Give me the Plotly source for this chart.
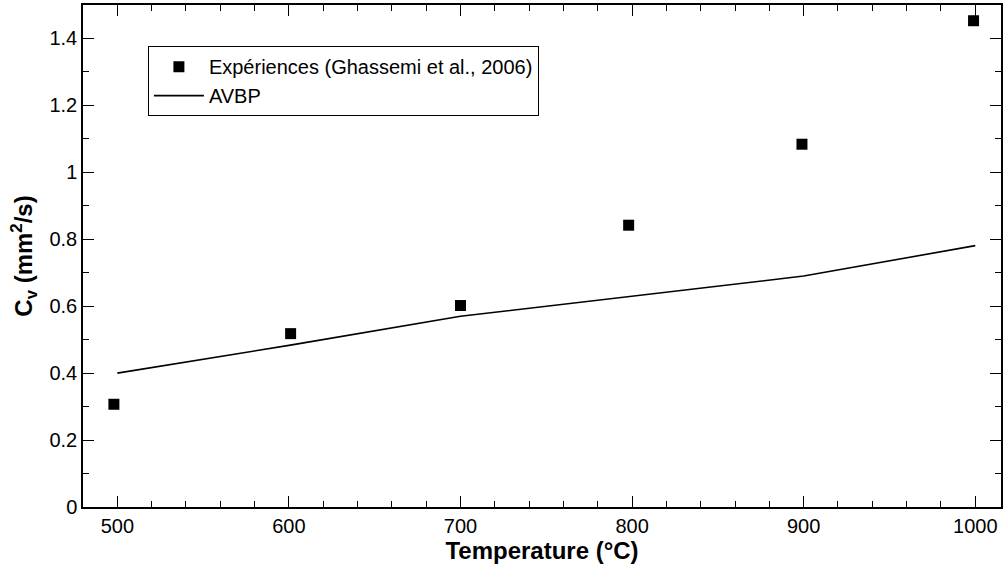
import plotly.graph_objects as go

exp_T = [498, 601, 700, 798, 899, 999]
exp_cv = [0.307, 0.518, 0.602, 0.842, 1.084, 1.453]
avbp_T = [500, 600, 700, 800, 900, 1000]
avbp_cv = [0.40, 0.483, 0.570, 0.630, 0.690, 0.781]

fig = go.Figure()
fig.add_trace(go.Scatter(x=exp_T, y=exp_cv, mode="markers",
                         name="Expériences (Ghassemi et al., 2006)",
                         marker=dict(symbol="square", size=11, color="black")))
fig.add_trace(go.Scatter(x=avbp_T, y=avbp_cv, mode="lines", name="AVBP",
                         line=dict(color="black", width=1.6)))

font = "Liberation Sans, Arial, sans-serif"
axis_common = dict(showline=True, linecolor="black", linewidth=1.5, mirror="allticks",
                   ticks="inside", ticklen=11, tickwidth=1.2, tickcolor="black",
                   showgrid=False, zeroline=False,
                   tickfont=dict(family=font, size=20, color="black"))
fig.update_xaxes(range=[480, 1015], tickvals=[500, 600, 700, 800, 900, 1000],
                 minor=dict(dtick=20, ticks="inside", ticklen=6, tickcolor="black", tickwidth=1),
                 title=dict(text="<b>Temperature (°C)</b>", font=dict(family=font, size=24, color="black"), standoff=6),
                 **axis_common)
fig.update_yaxes(range=[0, 1.5], tickvals=[0, 0.2, 0.4, 0.6, 0.8, 1, 1.2, 1.4],
                 ticktext=["0", "0.2", "0.4", "0.6", "0.8", "1", "1.2", "1.4"],
                 minor=dict(dtick=0.1, ticks="inside", ticklen=6, tickcolor="black", tickwidth=1),
                 title=dict(text="<b>C<sub>v</sub> (mm<sup>2</sup>/s)</b>", font=dict(family=font, size=24, color="black"), standoff=10),
                 **axis_common)
fig.update_layout(width=1004, height=569, margin=dict(l=83, r=1, t=5, b=62),
                  plot_bgcolor="white", paper_bgcolor="white",
                  legend=dict(x=0.0707, y=0.918, xanchor="left", yanchor="top",
                              bordercolor="black", borderwidth=1, bgcolor="white",
                              font=dict(family=font, size=20, color="black"),
                              tracegroupgap=0, itemwidth=50))
fig.write_html("out.html", config={"displayModeBar": False})

with open("out.html", "r", encoding="utf-8") as f:
    html = f.read()
html = html.replace("<head>", "<head><style>html,body{margin:0;padding:0;overflow:hidden;}</style>", 1)
with open("out.html", "w", encoding="utf-8") as f:
    f.write(html)
